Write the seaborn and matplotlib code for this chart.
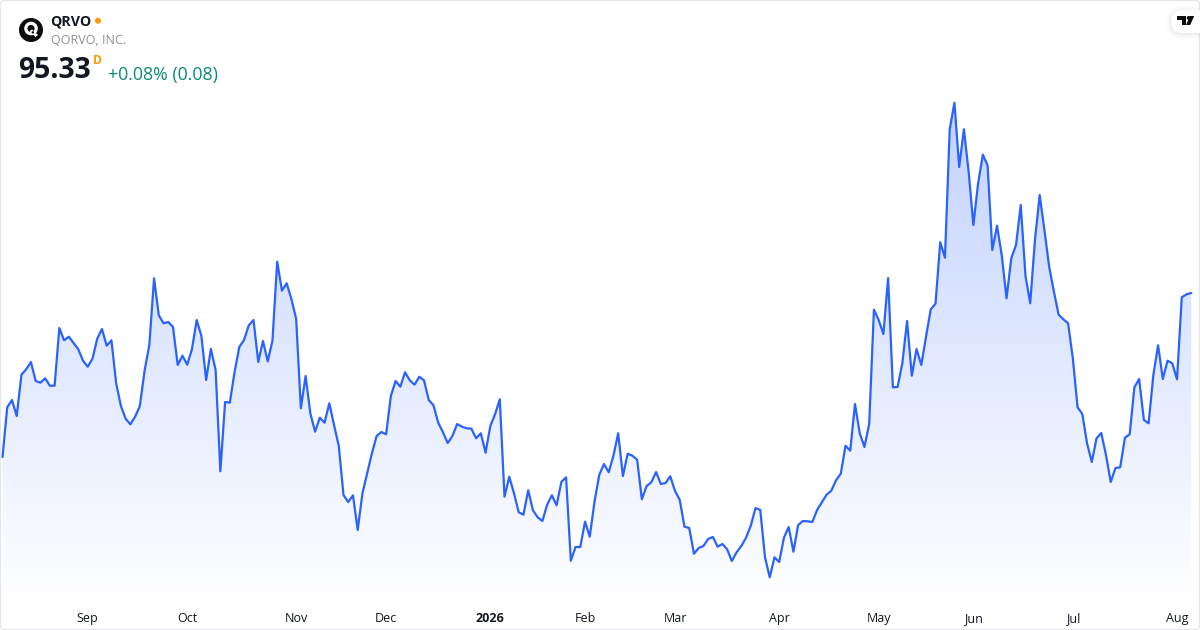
import numpy as np
import pandas as pd
import matplotlib
matplotlib.use("Agg")
import matplotlib.pyplot as plt
from matplotlib.patches import FancyBboxPatch, Circle, Polygon
import seaborn as sns

prices = [
    78.93, 83.90, 84.63, 83.03, 87.16, 87.70, 88.43, 86.53, 86.36, 86.80, 86.06, 86.06, 91.83,
    90.60, 90.96, 90.33, 89.70, 88.56, 87.96, 88.76, 90.76, 91.73, 90.06, 90.60, 86.30, 84.03,
    82.76, 82.20, 82.96, 84.03, 87.56, 90.13, 96.80, 93.10, 92.30, 92.43, 91.93, 88.13, 89.06,
    88.16, 89.70, 92.63, 91.03, 86.63, 89.73, 87.63, 77.50, 84.43, 84.36, 87.43, 89.93, 90.63,
    92.10, 92.63, 88.43, 90.53, 88.50, 90.56, 98.46, 95.56, 96.30, 94.73, 92.76,
    83.80, 87.03, 83.30, 81.46, 82.86, 82.36, 84.30, 82.13, 80.06, 75.13, 74.43, 75.10, 71.63,
    75.30, 77.30, 79.30, 81.03, 81.43, 81.20, 85.03, 86.53, 85.96, 87.40, 86.60, 86.16, 86.96,
    86.60, 84.63, 84.10, 82.36, 81.40, 80.33, 81.03, 82.23, 81.96, 81.80, 81.76, 80.80, 81.30,
    79.36, 82.03, 83.20, 84.70, 74.96, 76.96, 75.30, 73.40, 73.16, 75.60, 73.60, 72.90, 72.53,
    74.16, 75.10, 74.10, 76.43, 76.90, 68.56, 69.93, 69.93, 72.46, 70.96, 74.46, 77.13,
    78.23, 77.40, 79.06, 81.30, 77.03, 79.26, 79.06, 78.66, 74.70, 76.03, 76.40, 77.43, 76.23,
    76.33, 77.00, 75.53, 74.63, 71.96, 71.83, 69.26, 69.83, 70.03, 70.73, 70.93, 69.96, 70.23,
    69.70, 68.53, 69.40, 70.03, 70.86, 72.06, 73.83, 73.63, 68.90, 66.90, 68.90, 68.43, 70.86,
    71.93, 69.46, 72.13, 72.53, 72.50, 72.43, 73.63, 74.40, 75.16, 75.56, 76.60, 77.26, 80.06,
    79.56, 84.23, 81.30, 79.93, 82.23, 93.66, 92.63, 91.23, 96.83, 85.90, 85.93,
    88.30, 92.53, 87.06, 89.73, 88.13, 90.96, 93.70, 94.26, 100.40, 98.86, 111.70, 114.36,
    107.93, 111.70, 107.46, 102.13, 106.30, 109.16, 108.10, 99.63, 102.06, 99.06, 94.80, 98.80,
    100.13, 104.13, 97.06, 94.30, 100.63, 105.13, 101.63, 97.96, 95.46, 93.16, 92.70, 92.30,
    88.80, 83.90, 83.23, 80.30, 78.43, 80.80, 81.33, 79.13, 76.43, 77.83, 77.90, 80.86, 81.20,
    85.90, 86.73, 82.63, 82.30, 87.13, 90.10, 86.73, 88.56, 88.30, 86.70, 94.90, 95.20, 95.33,
]
tick_idx = [18, 39, 62, 81, 103, 123, 142, 164, 185, 205, 226, 248]
tick_labels = ["Sep", "Oct", "Nov", "Dec", "2026", "Feb", "Mar", "Apr", "May", "Jun", "Jul", "Aug"]
ticker = "QRVO"
company = "QORVO, INC."
last_price = "95.33"
change = "+0.08% (0.08)"

FONT = "Open Sans"
LINE = "#2962FF"
sns.set_theme(style="white")
plt.rcParams["font.family"] = [FONT, "DejaVu Sans"]

W, H = 1200, 630
fig = plt.figure(figsize=(W / 100, H / 100), dpi=100, facecolor="white")
AX_BOTTOM = 604
ax = fig.add_axes([0, (H - AX_BOTTOM) / H, 1, AX_BOTTOM / H])
ax.patch.set_alpha(0)

df = pd.DataFrame({"i": np.arange(len(prices)), "price": prices})
STEP = 4.736
X0 = 2.5
xlim = (-X0 / STEP, (W - X0) / STEP)
ylim = (124.63 - AX_BOTTOM / 10, 124.63)

fill = ax.fill_between(df["i"], df["price"], ylim[0], color="none", lw=0)
top_y = df["price"].max()
n = 512
alpha = np.linspace(0.285, 0, n)[:, None]
grad = np.zeros((n, 1, 4))
grad[..., 0], grad[..., 1], grad[..., 2] = 0x29 / 255, 0x62 / 255, 1.0
grad[..., 3] = alpha
im = ax.imshow(grad, extent=(xlim[0], xlim[1], ylim[0], top_y), aspect="auto",
               origin="upper", zorder=1, interpolation="bilinear")
im.set_clip_path(fill.get_paths()[0], transform=ax.transData)

sns.lineplot(data=df, x="i", y="price", ax=ax, color=LINE, linewidth=1.6, zorder=3,
             errorbar=None, estimator=None, solid_joinstyle="round")
ax.set_xlim(*xlim)
ax.set_ylim(*ylim)
ax.set_xlabel("")
ax.set_ylabel("")
ax.set_yticks([])
ax.set_xticks(tick_idx)
ax.set_xticklabels(tick_labels, fontsize=9.0, color="#131722")
ax.tick_params(axis="x", length=0, pad=5.5)
for lab in ax.get_xticklabels():
    if lab.get_text() == "2026":
        lab.set_fontweight("bold")
sns.despine(ax=ax, left=True, bottom=True, top=True, right=True)

# Overlay in pixel coordinates for the header furniture
ov = fig.add_axes([0, 0, 1, 1], zorder=5)
ov.set_xlim(0, W)
ov.set_ylim(H, 0)
ov.axis("off")
ov.patch.set_alpha(0)

ov.add_patch(FancyBboxPatch((0.5, 0.5), W - 1, H - 1, boxstyle="round,pad=0,rounding_size=4",
                            fc="none", ec="#e4e6ea", lw=0.9, clip_on=False))

# Company logo
ov.add_patch(Circle((31, 30), 12, fc="#0d0d0d", ec="none"))
ov.add_patch(Circle((31, 28.5), 5.2, fc="none", ec="white", lw=2.3))
ov.add_patch(Polygon([(29.5, 31), (32, 29.5), (38, 35), (35.5, 37)], fc="white", ec="none"))
ov.add_patch(Circle((32.8, 32.4), 1.2, fc="#0d0d0d", ec="none"))

# Watermark pill with a soft shadow
for pad, a in [(5, 0.006), (4, 0.008), (3, 0.012), (2, 0.016), (1, 0.02)]:
    ov.add_patch(FancyBboxPatch((1171 - pad, 10 - pad + 1), 60, 23 + 2 * pad,
                                boxstyle="round,pad=0,rounding_size=%d" % (11 + pad),
                                fc="black", ec="none", alpha=a))
ov.add_patch(FancyBboxPatch((1171, 10), 60, 23, boxstyle="round,pad=0,rounding_size=11",
                            fc="white", ec="none"))
ov.add_patch(Polygon([(1177.3, 16), (1186, 16), (1186, 25), (1181.5, 25), (1181.5, 19.8), (1177.3, 19.8)],
                     fc="#0f0f0f", ec="none"))
ov.add_patch(Circle((1188.6, 17.9), 1.9, fc="#0f0f0f", ec="none"))
ov.add_patch(Polygon([(1190, 16), (1194.2, 16), (1190.2, 25), (1186, 25)], fc="#0f0f0f", ec="none"))
ov.set_xlim(0, W)
ov.set_ylim(H, 0)

ov.text(50.5, 21, ticker, fontsize=10.3, fontweight="bold", color="#131722", va="center", ha="left")
ov.add_patch(Circle((98, 20.7), 3, fc="#ff9800", ec="none"))
ov.text(51, 41, company, fontsize=9.0, color="#8c8f98", va="center", ha="left")
ov.text(18.5, 71, last_price, fontsize=20.4, fontweight="bold", color="#131722", va="center", ha="left")
ov.text(93, 61, "D", fontsize=8.6, fontweight="bold", color="#ff9800", va="center", ha="left")
ov.text(108, 75, change, fontsize=12.75, color="#0b8a75", va="center", ha="left")

fig.savefig("out.png", dpi=100, facecolor="white")
